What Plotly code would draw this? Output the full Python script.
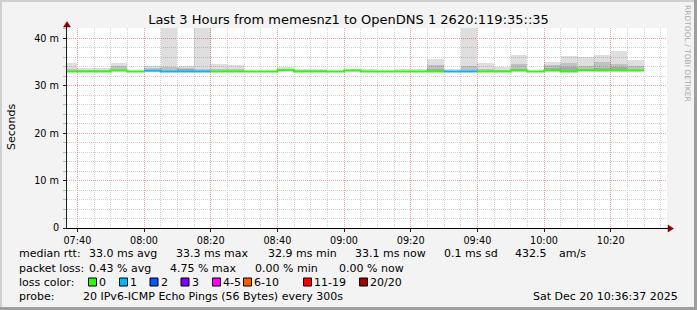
import plotly.graph_objects as go
import pandas as pd

FONT = "DejaVu Sans"

# ---------------- data ----------------
bin_starts = pd.date_range("2025-12-20 07:35", periods=35, freq="5min")
median_ms = [33.0, 33.0, 33.0, 33.25, 33.0, 33.2, 33.0, 33.0, 33.0, 33.0,
             33.0, 33.0, 33.0, 33.3, 33.0, 33.0, 33.0, 33.25, 33.0, 33.0,
             33.0, 33.0, 33.0, 33.0, 33.0, 33.0, 33.0, 33.25, 33.0, 33.25,
             33.0, 33.3, 33.25, 33.25, 33.25]
smoke_max_ms = [34.9, 33.75, 33.75, 34.9, 33.0, 34.1, 48.0, 34.1, 48.0, 34.7,
                34.4, 33.0, 33.0, 34.0, 33.6, 33.6, 33.0, 33.5, 33.5, 33.0,
                33.5, 33.5, 35.6, 33.5, 48.0, 34.9, 33.9, 36.4, 33.0, 35.1,
                36.2, 36.0, 36.5, 37.4, 35.5]
smoke_mid_ms = [33.6, 33.4, 33.4, 34.1, 33.0, 33.7, 34.0, 33.8, 33.6, 33.5,
                33.5, 33.0, 33.0, 33.6, 33.3, 33.3, 33.0, 33.3, 33.2, 33.0,
                33.2, 33.2, 34.3, 33.2, 34.2, 33.5, 33.4, 34.5, 33.0, 34.4,
                34.9, 34.2, 35.0, 34.5, 34.2]
smoke_in_ms = [33.0, 33.0, 33.0, 33.25, 33.0, 33.2, 33.0, 33.5, 33.0, 33.0,
               33.0, 33.0, 33.0, 33.3, 33.0, 33.0, 33.0, 33.25, 33.0, 33.0,
               33.0, 33.0, 33.6, 33.0, 33.0, 33.0, 33.0, 33.6, 33.0, 33.7,
               34.0, 33.6, 33.8, 33.9, 33.25]
loss_level = [0, 0, 0, 0, 0, 1, 1, 1, 1, 0,
              0, 0, 0, 0, 0, 0, 0, 0, 0, 0,
              0, 0, 0, 1, 1, 0, 0, 0, 0, 0,
              0, 0, 0, 0, 0]

loss_labels = ["0", "1", "2", "3", "4-5", "6-10", "11-19", "20/20"]
loss_colors = ["#26ff00", "#00b8ff", "#0059ff", "#7f00ff", "#ff00ff", "#ff5e00", "#ff0000", "#a10000"]

y_tickvals = [0, 10, 20, 30, 40]
y_ticktext = ["0", "10 m", "20 m", "30 m", "40 m"]

title_text = "Last 3 Hours from memesnz1 to OpenDNS 1 2620:119:35::35"
rtt_label = "median rtt:"
rtt_stats = ["33.0 ms avg", "33.3 ms max", "32.9 ms min", "33.1 ms now", "0.1 ms sd", "432.5", "am/s"]
loss_label = "packet loss:"
loss_stats = ["0.43 % avg", "4.75 % max", "0.00 % min", "0.00 % now"]
color_label = "loss color:"
probe_label = "probe:"
probe_text = "20 IPv6-ICMP Echo Pings (56 Bytes) every 300s"
date_text = "Sat Dec 20 10:36:37 2025"
watermark = "RRDTOOL / TOBI OETIKER"

x_start = pd.Timestamp("2025-12-20 07:36:54")
x_end = pd.Timestamp("2025-12-20 10:36:54")
y_top = 42.2

# ---------------- layout geometry ----------------
W_FIG, H_FIG = 697, 310
L, T, PW, PH = 67, 28, 600, 200
B = H_FIG - T - PH
R = W_FIG - L - PW


def px(x):
    return (x - L) / PW


def py(y):
    return (T + PH - y) / PH


fig = go.Figure()

step = pd.Timedelta(minutes=5)
centers = [s + step / 2 for s in bin_starts]
width_ms = step.total_seconds() * 1000

# smoke layers (stacked translucent grays)
for layer in (smoke_max_ms, smoke_mid_ms, smoke_in_ms):
    fig.add_trace(go.Bar(
        x=centers, y=[hi - m for hi, m in zip(layer, median_ms)], base=median_ms,
        width=[width_ms] * len(centers),
        marker=dict(color="rgba(0,0,0,0.13)", line=dict(width=0)),
        hoverinfo="skip", showlegend=False))

# median line coloured by loss
for lvl, col in enumerate(loss_colors):
    xs, ys = [], []
    i = 0
    n = len(bin_starts)
    while i < n:
        if loss_level[i] != lvl:
            i += 1
            continue
        j = i
        while j < n and loss_level[j] == lvl:
            xs.append(bin_starts[j])
            ys.append(median_ms[j])
            j += 1
        xs.append(bin_starts[j - 1] + step)
        ys.append(median_ms[j - 1])
        xs.append(None)
        ys.append(None)
        i = j
    if xs:
        fig.add_trace(go.Scatter(x=xs, y=ys, mode="lines",
                                 line=dict(color=col, width=2, shape="hv"),
                                 hoverinfo="skip", showlegend=False))

MAJOR = "#f0a0a0"
MINOR = "#d2d2d2"
AX = "#1f1f1f"

fig.update_xaxes(
    type="date", range=[x_start, x_end],
    tick0="2025-12-20 07:40", dtick=20 * 60 * 1000, tickformat="%H:%M",
    showgrid=True, gridcolor=MAJOR, griddash="1px,1px", gridwidth=1,
    ticks="outside", ticklen=3, tickcolor=AX,
    minor=dict(dtick=5 * 60 * 1000, tick0="2025-12-20 07:40", showgrid=True,
               gridcolor=MINOR, griddash="1px,1px", ticks=""),
    showline=True, linecolor="#000000", linewidth=1,
    tickfont=dict(family=FONT, size=9.7, color="#000"),
    zeroline=False, fixedrange=True)

fig.update_yaxes(
    range=[0, y_top], tickvals=y_tickvals, ticktext=y_ticktext,
    showgrid=True, gridcolor=MAJOR, griddash="1px,1px", gridwidth=1,
    ticks="outside", ticklen=3, tickcolor=AX,
    minor=dict(dtick=2, showgrid=True, gridcolor=MINOR, griddash="1px,1px",
               ticks="outside", ticklen=3, tickcolor="#bbbbbb"),
    showline=True, linecolor=AX, linewidth=1,
    tickfont=dict(family=FONT, size=9.7, color="#000"),
    ticklabelstandoff=2,
    zeroline=False, fixedrange=True)

fig.update_layout(
    width=W_FIG, height=H_FIG, autosize=False,
    margin=dict(l=L, r=R, t=T, b=B, pad=0),
    paper_bgcolor="#f3f3f3", plot_bgcolor="#ffffff",
    barmode="overlay", bargap=0, showlegend=False,
    font=dict(family=FONT, color="#000"),
    title=dict(text=title_text, x=0.5, xref="container", xanchor="center",
               y=1 - 19 / H_FIG, yref="container", yanchor="middle",
               font=dict(family=FONT, size=13, color="#000")),
)

ann = []


def text(x, y, s, size=11, anchor="left", color="#000", angle=0):
    ann.append(dict(text=s, x=px(x), y=py(y), xref="paper", yref="paper",
                    xanchor=anchor, yanchor="middle", showarrow=False,
                    textangle=angle,
                    font=dict(family=FONT, size=size, color=color)))


# axis title
text(11, 127, "Seconds", size=11, anchor="center", angle=-90)
# watermark
text(688, 53, watermark, size=7.5, anchor="center", color="#aaaaaa", angle=90)

# legend rows
row_y = [254, 268, 282, 296]
text(16.5, row_y[0], rtt_label)
for s, xx in zip(rtt_stats, [87, 174, 265.5, 352.5, 441.5, 513, 557]):
    text(xx, row_y[0], s)
text(16.5, row_y[1], loss_label)
for s, xx in zip(loss_stats, [87, 168, 253, 336.5]):
    text(xx, row_y[1], s)
text(16.5, row_y[2], color_label)
box_x = [88.5, 119.5, 150, 181, 212.5, 243.5, 303.5, 359.5]
shapes = []
for lab, col, bx in zip(loss_labels, loss_colors, box_x):
    shapes.append(dict(type="rect", xref="paper", yref="paper",
                       x0=px(bx), x1=px(bx + 8), y0=py(row_y[2] + 4), y1=py(row_y[2] - 4),
                       fillcolor=col, line=dict(color="#000", width=1), layer="above"))
    text(bx + 8.5, row_y[2], lab)
text(16.5, row_y[3], probe_label)
text(80.5, row_y[3], probe_text)
text(680, row_y[3], date_text, anchor="right")

# axis arrows
ARROW = "#8b0000"
shapes.append(dict(type="line", xref="paper", yref="paper", x0=px(66.5), x1=px(66.5),
                   y0=py(PH + T), y1=py(25), line=dict(color=AX, width=1)))
shapes.append(dict(type="path", xref="paper", yref="paper",
                   path=f"M {px(63.5)} {py(27)} L {px(70.5)} {py(27)} L {px(67)} {py(21.5)} Z",
                   fillcolor=ARROW, line=dict(color=ARROW, width=0.5)))
shapes.append(dict(type="line", xref="paper", yref="paper", x0=px(660), x1=px(669),
                   y0=py(228.5), y1=py(228.5), line=dict(color="#000", width=1)))
shapes.append(dict(type="path", xref="paper", yref="paper",
                   path=f"M {px(668)} {py(225)} L {px(668)} {py(232)} L {px(673.5)} {py(228.5)} Z",
                   fillcolor=ARROW, line=dict(color=ARROW, width=0.5)))

# 3D frame
shapes.append(dict(type="rect", xref="paper", yref="paper", x0=px(0), x1=px(W_FIG),
                   y0=py(2), y1=py(0), fillcolor="#cfcfcf", line=dict(width=0)))
shapes.append(dict(type="rect", xref="paper", yref="paper", x0=px(0), x1=px(2),
                   y0=py(H_FIG), y1=py(0), fillcolor="#cfcfcf", line=dict(width=0)))
shapes.append(dict(type="rect", xref="paper", yref="paper", x0=px(0), x1=px(W_FIG),
                   y0=py(H_FIG), y1=py(H_FIG - 3), fillcolor="#9e9e9e", line=dict(width=0)))
shapes.append(dict(type="rect", xref="paper", yref="paper", x0=px(W_FIG - 3), x1=px(W_FIG),
                   y0=py(H_FIG), y1=py(0), fillcolor="#9e9e9e", line=dict(width=0)))

fig.update_layout(annotations=ann, shapes=shapes)

fig.write_html("out.html", config={"displayModeBar": False, "staticPlot": True})
